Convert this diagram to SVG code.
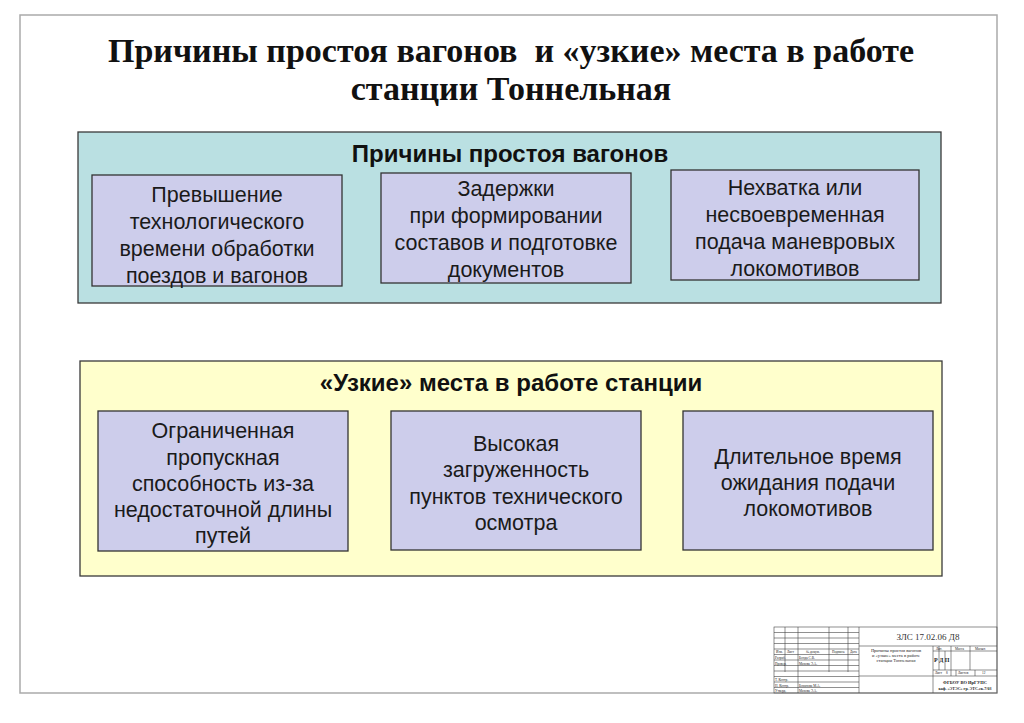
<svg xmlns="http://www.w3.org/2000/svg" width="1024" height="723" viewBox="0 0 1024 723">
<style>
.title{font-family:"Liberation Serif",serif;font-weight:bold;font-size:34px;fill:#111;text-anchor:middle}
.head{font-family:"Liberation Sans",Arial,sans-serif;font-weight:bold;font-size:24px;fill:#111;text-anchor:middle}
.bt{font-family:"Liberation Sans",Arial,sans-serif;font-size:21.5px;fill:#1a1a1a;text-anchor:middle}
.panel{stroke:#3a3a3a;stroke-width:1.3}
.box{fill:#cdcdeb;stroke:#333;stroke-width:1.3}
.tb{fill:none;stroke:#444;stroke-width:0.6}
.tt{font-family:"Liberation Serif",serif;font-size:3.4px;fill:#222}
</style>
<rect x="0" y="0" width="1024" height="723" fill="#ffffff"/>
<rect x="20" y="15" width="977" height="678" fill="none" stroke="#aaaaaa" stroke-width="1.5"/>

<g id="title">
<text class="title" x="511" y="62" xml:space="preserve">Причины простоя вагонов  и «узкие» места в работе</text>
<text class="title" x="511" y="100">станции Тоннельная</text>
</g>

<g id="panel1">
<rect class="panel" x="78" y="132" width="863" height="171" fill="#bae0e2"/>
<text class="head" x="510" y="162">Причины простоя вагонов</text>
</g>
<g id="n1">
<rect class="box" x="92" y="175" width="250" height="111"/>
<text class="bt" x="217" y="202">Превышение</text>
<text class="bt" x="217" y="229">технологического</text>
<text class="bt" x="217" y="256">времени обработки</text>
<text class="bt" x="217" y="283">поездов и вагонов</text>
</g>
<g id="n2">
<rect class="box" x="381" y="173" width="250" height="110"/>
<text class="bt" x="506" y="196">Задержки</text>
<text class="bt" x="506" y="223">при формировании</text>
<text class="bt" x="506" y="250">составов и подготовке</text>
<text class="bt" x="506" y="277">документов</text>
</g>
<g id="n3">
<rect class="box" x="671" y="170" width="248" height="110"/>
<text class="bt" x="795" y="195">Нехватка или</text>
<text class="bt" x="795" y="222">несвоевременная</text>
<text class="bt" x="795" y="249">подача маневровых</text>
<text class="bt" x="795" y="276">локомотивов</text>
</g>

<g id="panel2">
<rect class="panel" x="80" y="361" width="862" height="215" fill="#ffffcc"/>
<text class="head" x="511" y="391">«Узкие» места в работе станции</text>
</g>
<g id="n4">
<rect class="box" x="98" y="411" width="250" height="140"/>
<text class="bt" x="223" y="438">Ограниченная</text>
<text class="bt" x="223" y="465">пропускная</text>
<text class="bt" x="223" y="491">способность из-за</text>
<text class="bt" x="223" y="517">недостаточной длины</text>
<text class="bt" x="223" y="543">путей</text>
</g>
<g id="n5">
<rect class="box" x="391" y="411" width="250" height="139"/>
<text class="bt" x="516" y="451">Высокая</text>
<text class="bt" x="516" y="477">загруженность</text>
<text class="bt" x="516" y="504">пунктов технического</text>
<text class="bt" x="516" y="530">осмотра</text>
</g>
<g id="n6">
<rect class="box" x="683" y="411" width="250" height="139"/>
<text class="bt" x="808" y="464">Длительное время</text>
<text class="bt" x="808" y="490">ожидания подачи</text>
<text class="bt" x="808" y="516">локомотивов</text>
</g>

<g id="connectors"></g>

<g id="titleblock">
<rect class="tb" x="774" y="627" width="223" height="66" fill="#fff"/>
<path class="tb" d="M785 627V672 M798 627V693 M829 627V672 M848 627V672 M859 627V693
M774 632.5H859 M774 638H859 M774 643.5H859 M774 649H859 M774 654.5H859 M774 660H859 M774 665.5H859 M774 671H859 M774 676.5H859 M774 682H859 M774 687.5H859
M859 646H997 M933 646V693 M859 676H997 M933 651H997 M933 670H997 M939 646V670 M945 651V670 M951 646V676 M970 646V670 M956 670V676 M975 670V676"/>
<text class="tt" x="776" y="653">Изм.</text>
<text class="tt" x="787" y="653">Лист</text>
<text class="tt" x="806" y="653">№ докум.</text>
<text class="tt" x="832" y="653">Подпись</text>
<text class="tt" x="850" y="653">Дата</text>
<text class="tt" x="775" y="659">Разраб.</text>
<text class="tt" x="799" y="659">Бонда С.В.</text>
<text class="tt" x="775" y="664.5">Провер.</text>
<text class="tt" x="799" y="664.5">Махова Э.А.</text>
<text class="tt" x="775" y="681">Т. Контр.</text>
<text class="tt" x="775" y="686.5">Н. Контр.</text>
<text class="tt" x="799" y="686.5">Бочанова М.А.</text>
<text class="tt" x="775" y="692">Утверд.</text>
<text class="tt" x="799" y="692">Махова Э.А.</text>
<text x="928" y="640" style="font-family:'Liberation Serif',serif;font-size:9px;fill:#333;text-anchor:middle">ЗЛС 17.02.06 Д8</text>
<text class="tt" x="896" y="652" text-anchor="middle" style="font-size:4.5px">Причины простоя вагонов</text>
<text class="tt" x="896" y="657" text-anchor="middle" style="font-size:4.5px">и «узкие» места в работе</text>
<text class="tt" x="896" y="662" text-anchor="middle" style="font-size:4.5px">станции Тоннельная</text>
<text class="tt" x="936" y="650">Лит.</text>
<text class="tt" x="955" y="650">Масса</text>
<text class="tt" x="975" y="650">Масшт.</text>
<text class="tt" x="934" y="662" style="font-size:6px;font-weight:bold">Р Д П</text>
<text class="tt" x="935" y="674">Лист</text>
<text class="tt" x="946" y="674">8</text>
<text class="tt" x="958" y="674">Листов</text>
<text class="tt" x="982" y="674">12</text>
<text class="tt" x="965" y="684" text-anchor="middle" style="font-size:4.5px;font-weight:bold">ФГБОУ ВО ИрГУПС</text>
<text class="tt" x="965" y="690" text-anchor="middle" style="font-size:4px;font-weight:bold">каф. «ЭТЭС» гр. ЭТС.ск-7/03</text>
</g>
</svg>
